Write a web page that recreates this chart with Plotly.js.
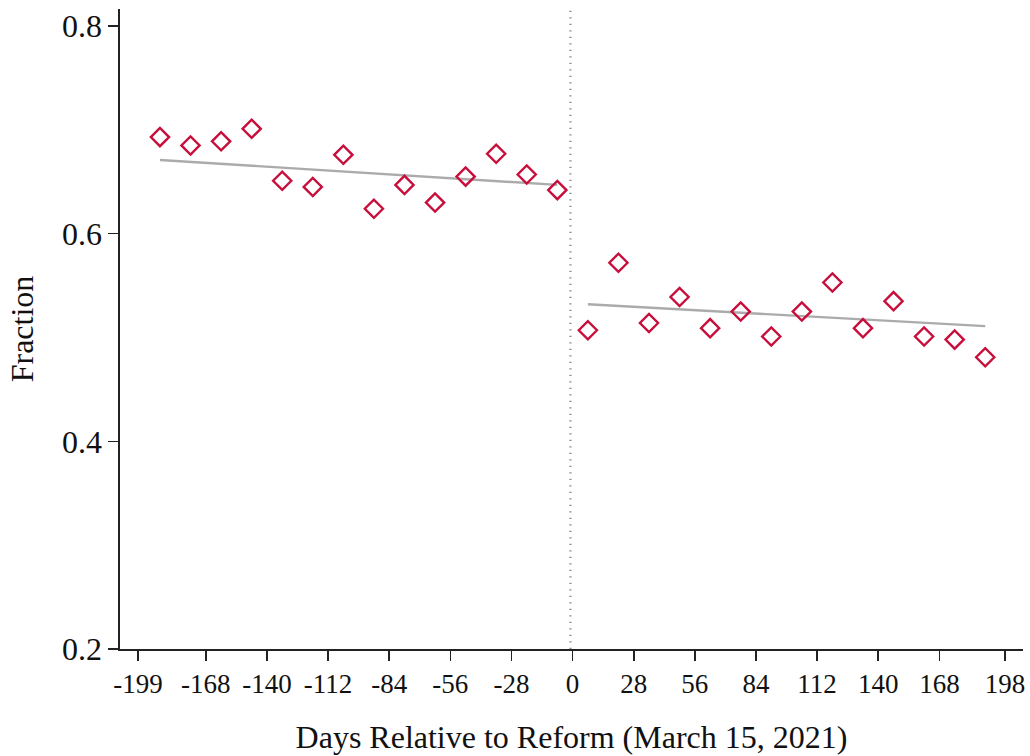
<!DOCTYPE html>
<html>
<head>
<meta charset="utf-8">
<script src="https://cdn.plot.ly/plotly-3.0.1.min.js"></script>
<style>
  html, body { margin: 0; padding: 0; background: #ffffff; }
  #chart { width: 1030px; height: 756px; }
</style>
</head>
<body>
<div id="chart"></div>
<script>
// Binned means (14-day bins) before and after the reform date
const preDays = [-189, -175, -161, -147, -133, -119, -105, -91, -77, -63, -49, -35, -21, -7];
const preFraction = [0.693, 0.685, 0.689, 0.701, 0.651, 0.645, 0.676, 0.624, 0.647, 0.630, 0.655, 0.677, 0.657, 0.642];

const postDays = [7, 21, 35, 49, 63, 77, 91, 105, 119, 133, 147, 161, 175, 189];
const postFraction = [0.507, 0.572, 0.514, 0.539, 0.509, 0.525, 0.501, 0.525, 0.553, 0.509, 0.535, 0.501, 0.498, 0.481];

// Linear fit endpoints for each side
const preFitDays = [-189, -7];
const preFitValues = [0.671, 0.647];
const postFitDays = [7, 189];
const postFitValues = [0.532, 0.511];

// Reform marker position and tick labels
const reformDay = -1;
const xTicks = [-199, -168, -140, -112, -84, -56, -28, 0, 28, 56, 84, 112, 140, 168, 198];
const yTicks = [0.2, 0.4, 0.6, 0.8];
const yTickLabels = ['0.2', '0.4', '0.6', '0.8'];

const markerColor = '#c80f3c';
const fitColor = '#ababab';
const serif = 'Liberation Serif, Times New Roman, serif';

const scatter = (x, y) => ({
  x: x, y: y, type: 'scatter', mode: 'markers', showlegend: false, hoverinfo: 'skip',
  marker: { symbol: 'diamond-open', size: 14, color: markerColor, line: { color: markerColor, width: 2.4 } }
});
const fit = (x, y) => ({
  x: x, y: y, type: 'scatter', mode: 'lines', showlegend: false, hoverinfo: 'skip',
  line: { color: fitColor, width: 2.4 }
});

const data = [
  fit(preFitDays, preFitValues),
  fit(postFitDays, postFitValues),
  scatter(preDays, preFraction),
  scatter(postDays, postFraction)
];

const axisCommon = {
  showline: true, linecolor: '#222222', linewidth: 1.6,
  ticks: 'outside', ticklen: 10, tickwidth: 1.6, tickcolor: '#222222',
  showgrid: false, zeroline: false, tickmode: 'array'
};

const layout = {
  width: 1030, height: 756,
  margin: { l: 120, r: 7, t: 9, b: 107 },
  paper_bgcolor: '#ffffff', plot_bgcolor: '#ffffff',
  font: { family: serif, color: '#111111' },
  xaxis: Object.assign({}, axisCommon, {
    range: [-207.3, 206.3],
    tickvals: xTicks, ticktext: xTicks.map(String),
    tickfont: { family: serif, size: 27, color: '#111111' },
    title: { text: 'Days Relative to Reform (March 15, 2021)', font: { family: serif, size: 32, color: '#111111' }, standoff: 27 }
  }),
  yaxis: Object.assign({}, axisCommon, {
    range: [0.2, 0.8164],
    tickvals: yTicks, ticktext: yTickLabels,
    tickfont: { family: serif, size: 32, color: '#111111' },
    title: { text: 'Fraction', font: { family: serif, size: 32, color: '#111111' }, standoff: 19 }
  }),
  shapes: [{
    type: 'line', xref: 'x', yref: 'paper', x0: reformDay, x1: reformDay, y0: 0, y1: 1,
    line: { color: '#999999', width: 2.5, dash: '1.2px,5.3px' }, layer: 'below'
  }]
};

Plotly.newPlot('chart', data, layout, { displayModeBar: false, staticPlot: true });
</script>
</body>
</html>
